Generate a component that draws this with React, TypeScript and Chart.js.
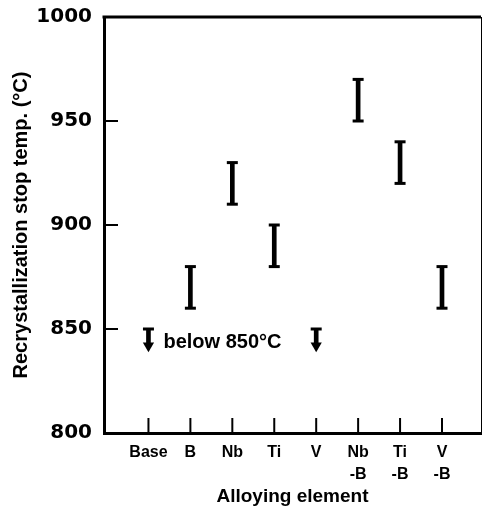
import { useEffect, useRef } from 'react';
import { Chart, registerables } from 'chart.js';

Chart.register(...registerables);

const categories: string[][] = [['Base'], ['B'], ['Nb'], ['Ti'], ['V'], ['Nb', '-B'], ['Ti', '-B'], ['V', '-B']];
const rangeLow: (number | null)[] = [null, 860, 910, 880, null, 950, 920, 860];
const rangeHigh: (number | null)[] = [null, 880, 930, 900, null, 970, 940, 880];
const belowLimit: (number | null)[] = [850, null, null, null, 850, null, null, null];
const arrowEnd = 842;
const yTicks = [800, 850, 900, 950, 1000];
const innerYTicks = [850, 900, 950];
const noteText = 'below 850°C';
const noteValue = 843.5;
const noteCategory = 0;

const SANS = '"Liberation Sans", Arial, sans-serif';
const NUM = '"DejaVu Sans", sans-serif';

const framePlugin = {
  id: 'frame',
  afterDraw(chart: any) {
    const { ctx, chartArea } = chart;
    const xs = chart.scales.x;
    const ys = chart.scales.y;
    ctx.save();
    ctx.strokeStyle = '#000';
    ctx.lineWidth = 3;
    ctx.beginPath();
    ctx.moveTo(chartArea.left - 1.5, chartArea.top);
    ctx.lineTo(chartArea.right, chartArea.top);
    ctx.stroke();
    ctx.lineWidth = 1;
    ctx.beginPath();
    ctx.moveTo(chartArea.right + 0.5, chartArea.top);
    ctx.lineTo(chartArea.right + 0.5, chartArea.bottom);
    ctx.stroke();
    ctx.lineWidth = 2;
    innerYTicks.forEach((v) => {
      const y = ys.getPixelForValue(v);
      ctx.beginPath();
      ctx.moveTo(chartArea.left, y);
      ctx.lineTo(chartArea.left + 14, y);
      ctx.stroke();
    });
    categories.forEach((_, i) => {
      const x = xs.getPixelForValue(i);
      ctx.beginPath();
      ctx.moveTo(x, chartArea.bottom);
      ctx.lineTo(x, chartArea.bottom - 15);
      ctx.stroke();
    });
    ctx.fillStyle = '#000';
    ctx.font = 'bold 20px ' + SANS;
    ctx.textAlign = 'left';
    ctx.textBaseline = 'middle';
    ctx.fillText(noteText, xs.getPixelForValue(noteCategory) + 15, ys.getPixelForValue(noteValue));
    ctx.restore();
  },
};

const zeroPadding = (s: any) => {
  s.paddingTop = 0;
  s.paddingBottom = 0;
  s.paddingLeft = 0;
  s.paddingRight = 0;
};

export default function App() {
  const ref = useRef<HTMLCanvasElement>(null);
  useEffect(() => {
    if (!ref.current) return;
    const stems: any[] = [];
    const caps: any[] = [];
    const heads: any[] = [];
    categories.forEach((_, i) => {
      const lo = rangeLow[i];
      const hi = rangeHigh[i];
      if (lo != null && hi != null) {
        stems.push({ x: i, y: [lo, hi] });
        caps.push({ x: i, y: lo }, { x: i, y: hi });
      }
      const b = belowLimit[i];
      if (b != null) {
        stems.push({ x: i, y: [arrowEnd, b] });
        caps.push({ x: i, y: b });
        heads.push({ x: i, y: arrowEnd });
      }
    });
    const chart = new Chart(ref.current, {
      type: 'bar',
      data: {
        datasets: [
          {
            type: 'bar',
            data: stems,
            backgroundColor: '#000',
            borderWidth: 0,
            barThickness: 4,
            grouped: false,
          } as any,
          {
            type: 'scatter',
            data: caps,
            pointStyle: 'line',
            pointRadius: 5.5,
            pointBorderWidth: 3,
            pointBorderColor: '#000',
            showLine: false,
          } as any,
          {
            type: 'scatter',
            data: heads,
            pointStyle: 'triangle',
            rotation: 180,
            pointRadius: 6.5,
            pointBorderWidth: 0,
            pointBackgroundColor: '#000',
            showLine: false,
          } as any,
        ],
      },
      options: {
        animation: false,
        responsive: false,
        layout: { autoPadding: false, padding: { top: 17, right: 1, left: 0, bottom: 0 } },
        plugins: { legend: { display: false }, tooltip: { enabled: false } },
        scales: {
          x: {
            type: 'linear',
            offset: false,
            min: -1.06,
            max: 7.93,
            afterBuildTicks: (s: any) => {
              s.ticks = categories.map((_, i) => ({ value: i }));
            },
            afterFit: (s: any) => {
              s.height = 77;
              zeroPadding(s);
            },
            ticks: {
              autoSkip: false,
              maxRotation: 0,
              padding: 8,
              color: '#000',
              font: { family: SANS, weight: 'bold', size: 16, lineHeight: 1.4 },
              callback: (v: any) => categories[v as number] ?? '',
            },
            grid: { display: false, drawTicks: false, offset: false },
            border: { display: true, width: 3, color: '#000' },
            title: {
              display: true,
              text: 'Alloying element',
              color: '#000',
              font: { family: SANS, weight: 'bold', size: 19, lineHeight: 1.2 },
              padding: { top: 0, bottom: 2 },
            },
          },
          y: {
            type: 'linear',
            min: 800,
            max: 1000,
            afterBuildTicks: (s: any) => {
              s.ticks = yTicks.map((v) => ({ value: v }));
            },
            afterFit: (s: any) => {
              s.width = 104;
              zeroPadding(s);
            },
            ticks: {
              padding: 12,
              color: '#000',
              font: { family: NUM, weight: 'bold', size: 20 },
              callback: (v: any) => String(v),
            },
            grid: { display: false, drawTicks: false },
            border: { display: true, width: 3, color: '#000' },
            title: {
              display: true,
              text: 'Recrystallization stop temp. (°C)',
              color: '#000',
              font: { family: SANS, weight: 'bold', size: 20, lineHeight: 1.2 },
              padding: { top: 9, bottom: 0 },
            },
          },
        },
      },
      plugins: [framePlugin],
    });
    return () => chart.destroy();
  }, []);
  return (
    <div style={{ position: 'fixed', left: 0, top: 0, width: 482, height: 510, background: '#fff' }}>
      <canvas ref={ref} width={482} height={510} style={{ display: 'block' }} />
    </div>
  );
}
